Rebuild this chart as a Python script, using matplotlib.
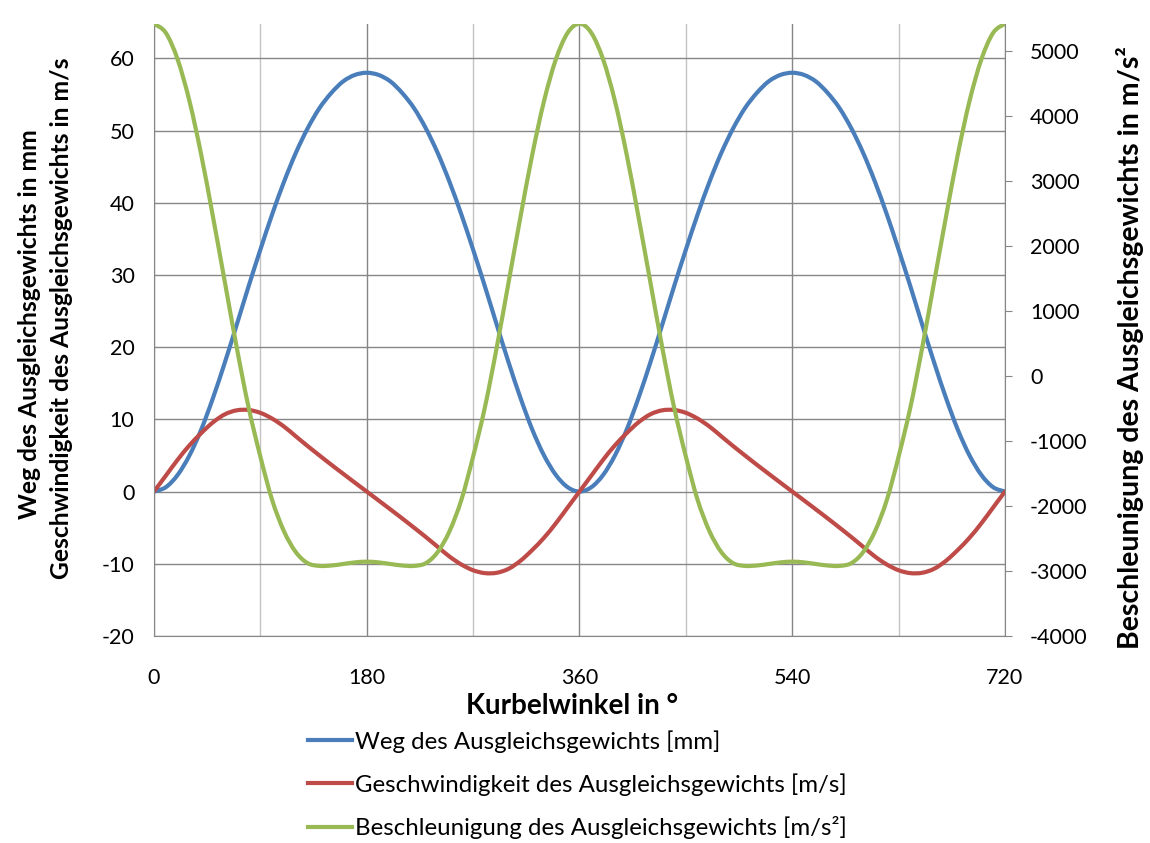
import matplotlib
matplotlib.use("Agg")
import matplotlib.pyplot as plt
from matplotlib.path import Path
from matplotlib.patches import PathPatch
from matplotlib.lines import Line2D

plt.rcParams['font.family'] = ['Lato', 'DejaVu Sans']
plt.rcParams['axes.unicode_minus'] = False

# Kurbelwinkel in Grad (Schritt 10°)
kurbelwinkel = list(range(0, 721, 10))

# Weg des Ausgleichsgewichts [mm]
weg = [0.0, 0.6, 2.3, 5.0, 8.6, 13.0, 17.9, 23.1, 28.4, 33.5, 38.4, 42.9, 46.9, 50.3, 53.1, 55.2, 56.8, 57.7,
       58.0, 57.7, 56.8, 55.2, 53.1, 50.3, 46.9, 42.9, 38.4, 33.5, 28.4, 23.1, 17.9, 13.0, 8.6, 5.0, 2.3, 0.6,
       0.0, 0.6, 2.3, 5.0, 8.6, 13.0, 17.9, 23.1, 28.4, 33.5, 38.4, 42.9, 46.9, 50.3, 53.1, 55.2, 56.8, 57.7,
       58.0, 57.7, 56.8, 55.2, 53.1, 50.3, 46.9, 42.9, 38.4, 33.5, 28.4, 23.1, 17.9, 13.0, 8.6, 5.0, 2.3, 0.6,
       0.0]

# Geschwindigkeit des Ausgleichsgewichts [m/s]
geschw = [0.0, 2.2, 4.4, 6.4, 8.1, 9.6, 10.7, 11.25, 11.3, 10.9, 10.1, 9.0, 7.65, 6.3, 5.0, 3.72, 2.47, 1.23,
          0.0, -1.23, -2.47, -3.72, -5.0, -6.3, -7.65, -9.0, -10.1, -10.9, -11.3, -11.25, -10.7, -9.6, -8.1, -6.4, -4.4, -2.2,
          0.0, 2.2, 4.4, 6.4, 8.1, 9.6, 10.7, 11.25, 11.3, 10.9, 10.1, 9.0, 7.65, 6.3, 5.0, 3.72, 2.47, 1.23,
          0.0, -1.23, -2.47, -3.72, -5.0, -6.3, -7.65, -9.0, -10.1, -10.9, -11.3, -11.25, -10.7, -9.6, -8.1, -6.4, -4.4, -2.2,
          0.0]

# Beschleunigung des Ausgleichsgewichts [m/s²]
beschl = [5420, 5280, 4870, 4230, 3400, 2440, 1440, 440, -480, -1240, -1910, -2390, -2710, -2880, -2922, -2916, -2893, -2868,
          -2857, -2868, -2893, -2916, -2922, -2880, -2710, -2390, -1910, -1240, -480, 440, 1440, 2440, 3400, 4230, 4870, 5280,
          5420, 5280, 4870, 4230, 3400, 2440, 1440, 440, -480, -1240, -1910, -2390, -2710, -2880, -2922, -2916, -2893, -2868,
          -2857, -2868, -2893, -2916, -2922, -2880, -2710, -2390, -1910, -1240, -480, 440, 1440, 2440, 3400, 4230, 4870, 5280,
          5420]

namen = ['Weg des Ausgleichsgewichts [mm]',
         'Geschwindigkeit des Ausgleichsgewichts [m/s]',
         'Beschleunigung des Ausgleichsgewichts [m/s²]']
farben = ['#4A7EBB', '#BE4B48', '#98B954']

x_ticks = [0, 180, 360, 540, 720]
x_minor = [90, 270, 450, 630]
y_links = list(range(-20, 61, 10))
y_rechts = list(range(-4000, 5001, 1000))

grau = '#868686'
hellgrau = '#C3C3C3'
lw = 3.0


def glatte_linie(ax, x, y, farbe):
    # geglaettete Linie wie in Excel (Bezier durch die Punkte)
    pts = list(zip(x, y))
    verts = [pts[0]]
    codes = [Path.MOVETO]
    for i in range(len(pts) - 1):
        p0 = pts[i - 1] if i > 0 else pts[i]
        p1 = pts[i]
        p2 = pts[i + 1]
        p3 = pts[i + 2] if i + 2 < len(pts) else pts[i + 1]
        c1 = (p1[0] + (p2[0] - p0[0]) / 6, p1[1] + (p2[1] - p0[1]) / 6)
        c2 = (p2[0] - (p3[0] - p1[0]) / 6, p2[1] - (p3[1] - p1[1]) / 6)
        verts += [c1, c2, p2]
        codes += [Path.CURVE4] * 3
    ax.add_patch(PathPatch(Path(verts, codes), facecolor='none', edgecolor=farbe,
                           lw=lw, capstyle='round', joinstyle='round'))


fig = plt.figure(figsize=(11.5, 8.43), dpi=100)
ax = fig.add_axes([0.1339, 0.2456, 0.7400, 0.7259])
ax2 = ax.twinx()

glatte_linie(ax, kurbelwinkel, weg, farben[0])
glatte_linie(ax, kurbelwinkel, geschw, farben[1])
glatte_linie(ax2, kurbelwinkel, beschl, farben[2])

ax.set_xlim(0, 720)
ax.set_ylim(-20, 64.75)
ax2.set_ylim(-4000, 5415)

ax.set_xticks(x_ticks)
ax.set_xticks(x_minor, minor=True)
ax.set_yticks(y_links)
ax2.set_yticks(y_rechts)

ax.grid(which='major', color=grau, lw=1)
ax.grid(which='minor', axis='x', color=hellgrau, lw=1)
ax.set_axisbelow(True)

for s in ['top', 'right']:
    ax.spines[s].set_visible(False)
for s in ['top', 'left', 'bottom']:
    ax2.spines[s].set_visible(False)
for s in ['left', 'bottom']:
    ax.spines[s].set_color(grau)
ax2.spines['right'].set_color(grau)

ax.tick_params(axis='x', which='both', length=0, pad=23, labelsize=15.5)
ax.tick_params(axis='y', length=0, pad=14, labelsize=15.5)
ax2.tick_params(axis='y', length=5, color=grau, pad=13, labelsize=15.5)

# Achsentitel
fig.text(572 / 1150, 1 - 706 / 843, 'Kurbelwinkel in °', fontsize=20, fontweight='bold',
         ha='center', va='center')
fig.text(30 / 1150, 1 - 324 / 843, 'Weg des Ausgleichsgewichts in mm', fontsize=17.7,
         fontweight='bold', rotation=90, ha='center', va='center')
fig.text(62 / 1150, 1 - 318 / 843, 'Geschwindigkeit des Ausgleichsgewichts in m/s', fontsize=17.7,
         fontweight='bold', rotation=90, ha='center', va='center')
fig.text(1130 / 1150, 1 - 348 / 843, 'Beschleunigung des Ausgleichsgewichts in m/s²', fontsize=20.5,
         fontweight='bold', rotation=90, ha='center', va='center')

handles = [Line2D([], [], color=f, lw=lw) for f in farben]
fig.legend(handles=handles, labels=namen, loc='upper left', bbox_to_anchor=(308 / 1150, 1 - 730 / 843),
           frameon=False, fontsize=17.3, handlelength=1.83, handletextpad=0.12, labelspacing=0.85,
           borderpad=0, borderaxespad=0)

fig.savefig('out.png', dpi=100)
